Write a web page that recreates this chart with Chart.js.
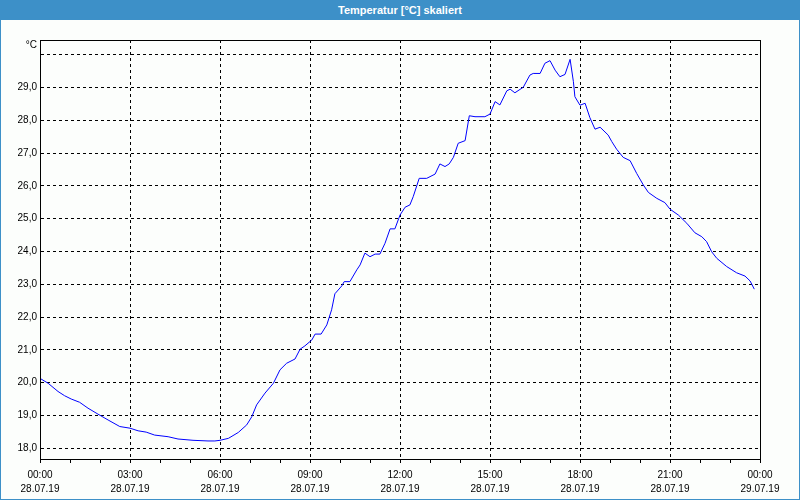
<!DOCTYPE html>
<html>
<head>
<meta charset="utf-8">
<script src="https://cdn.jsdelivr.net/npm/chart.js@4"></script>
<style>
html,body{margin:0;padding:0;background:#fff;}
#wrap{position:relative;width:800px;height:500px;background:#fcfefc;overflow:hidden;}
#title{position:absolute;left:0;top:0;width:800px;height:20px;background:#3d90c8;color:#fff;font:bold 11px "Liberation Sans",Arial,sans-serif;text-align:center;line-height:20px;z-index:2;}
#frame{position:absolute;left:0;top:0;width:800px;height:500px;box-sizing:border-box;border:1px solid #3d90c8;border-top:none;z-index:3;pointer-events:none;}
#c{position:absolute;left:0;top:0;}
</style>
</head>
<body>
<div id="wrap">
  <div id="title">Temperatur [°C] skaliert</div>
  <canvas id="c" width="800" height="500"></canvas>
  <div id="frame"></div>
</div>
<script>
// ---- data (hours since 28.07.19 00:00, temperature in °C) ----
const hours = [0.00,0.27,0.60,0.82,1.04,1.32,1.60,1.93,2.27,2.66,3.00,3.27,3.54,3.82,4.27,4.60,5.10,5.60,5.83,6.00,
  6.28,6.61,6.89,7.06,7.22,7.50,7.78,8.00,8.22,8.50,8.67,8.83,9.06,9.17,9.37,9.56,9.72,9.83,10.06,10.14,
  10.33,10.56,10.67,10.83,11.00,11.17,11.33,11.50,11.67,11.83,12.00,12.17,12.33,12.44,12.64,12.89,13.17,13.33,13.50,13.64,
  13.78,13.94,14.17,14.31,14.50,14.83,15.00,15.17,15.33,15.56,15.67,15.83,16.11,16.33,16.44,16.67,16.83,17.00,17.17,17.33,
  17.50,17.67,17.78,17.83,18.00,18.17,18.33,18.50,18.67,18.94,19.06,19.22,19.44,19.67,19.89,20.11,20.28,20.56,20.83,21.00,
  21.28,21.56,21.83,22.06,22.22,22.39,22.56,22.89,23.22,23.50,23.67,23.81];
const temps = [20.13,19.98,19.73,19.60,19.50,19.40,19.22,19.04,18.86,18.66,18.61,18.53,18.49,18.40,18.35,18.28,18.24,18.22,18.22,18.24,
  18.30,18.48,18.71,18.96,19.32,19.68,19.98,20.39,20.59,20.72,21.02,21.12,21.30,21.48,21.48,21.76,22.22,22.71,22.95,23.08,
  23.08,23.44,23.59,23.95,23.84,23.92,23.92,24.25,24.69,24.69,25.11,25.35,25.42,25.67,26.23,26.23,26.36,26.67,26.59,26.67,
  26.87,27.30,27.38,28.14,28.11,28.11,28.19,28.57,28.47,28.90,28.95,28.84,29.01,29.38,29.43,29.43,29.74,29.82,29.53,29.33,
  29.40,29.86,29.18,28.72,28.46,28.52,28.08,27.73,27.79,27.55,27.35,27.12,26.87,26.77,26.38,26.03,25.80,25.62,25.49,25.29,
  25.11,24.86,24.57,24.45,24.30,23.99,23.79,23.54,23.35,23.25,23.10,22.85];

// ---- tick labels ----
const xTickHours = [0,3,6,9,12,15,18,21,24];
const xTickTimes = ["00:00","03:00","06:00","09:00","12:00","15:00","18:00","21:00","00:00"];
const xTickDates = ["28.07.19","28.07.19","28.07.19","28.07.19","28.07.19","28.07.19","28.07.19","28.07.19","29.07.19"];
const yTickValues = [18,19,20,21,22,23,24,25,26,27,28,29,30];
const yTickLabels = ["18,0","19,0","20,0","21,0","22,0","23,0","24,0","25,0","26,0","27,0","28,0","29,0",""];
const yUnit = "°C";

const FONT = '"Liberation Sans", Arial, sans-serif';
Chart.defaults.font.family = FONT;
Chart.defaults.font.size = 10;
Chart.defaults.color = '#000';

const framePlugin = {
  id: 'frame',
  afterDraw(chart) {
    const {ctx, chartArea: a} = chart;
    ctx.save();
    ctx.strokeStyle = '#000';
    ctx.lineWidth = 1;
    ctx.setLineDash([]);
    ctx.strokeRect(Math.round(a.left) + 0.5, Math.round(a.top) + 0.5,
                   Math.round(a.right - a.left), Math.round(a.bottom - a.top));
    ctx.font = '10px ' + FONT;
    ctx.fillStyle = '#000';
    ctx.textAlign = 'right';
    ctx.textBaseline = 'middle';
    ctx.fillText(yUnit, Math.round(a.left) - 3, Math.round(a.top) + 5);
    ctx.restore();
  }
};

new Chart(document.getElementById('c'), {
  type: 'line',
  data: {
    datasets: [{
      data: hours.map((h, i) => ({x: h, y: temps[i]})),
      borderColor: '#0000ff',
      borderWidth: 1,
      pointRadius: 0,
      tension: 0,
      fill: false
    }]
  },
  options: {
    responsive: false,
    animation: false,
    devicePixelRatio: 1,
    layout: {padding: {left: 0, top: 40, right: 40, bottom: 0}},
    plugins: {legend: {display: false}, tooltip: {enabled: false}, title: {display: false}},
    scales: {
      x: {
        type: 'linear',
        min: 0,
        max: 24,
        afterBuildTicks: axis => {
          const t = [];
          for (let h = 0; h <= 24; h++) t.push({value: h});
          axis.ticks = t;
        },
        afterFit: axis => { axis.height = 41; },
        ticks: {
          autoSkip: false,
          maxRotation: 0,
          minRotation: 0,
          padding: 5,
          font: {size: 10, lineHeight: 1.4},
          callback: v => {
            const i = xTickHours.indexOf(v);
            return i >= 0 ? [xTickTimes[i], xTickDates[i]] : '';
          }
        },
        grid: {
          color: c => (c.tick && xTickHours.indexOf(c.tick.value) >= 0) ? '#000' : 'rgba(0,0,0,0)',
          tickColor: '#000',
          tickLength: 4,
          lineWidth: 1,
          drawTicks: true
        },
        border: {display: true, color: '#000', width: 1, dash: [3, 3]}
      },
      y: {
        type: 'linear',
        min: 17.67,
        max: 30.45,
        afterBuildTicks: axis => { axis.ticks = yTickValues.map(v => ({value: v})); },
        afterFit: axis => { axis.width = 40; },
        ticks: {
          padding: 3,
          font: {size: 10},
          callback: v => {
            const i = yTickValues.indexOf(v);
            return i >= 0 ? yTickLabels[i] : '';
          }
        },
        grid: {color: '#000', lineWidth: 1, drawTicks: false},
        border: {display: true, color: '#000', width: 1, dash: [3, 3]}
      }
    }
  },
  plugins: [framePlugin]
});
</script>
</body>
</html>
